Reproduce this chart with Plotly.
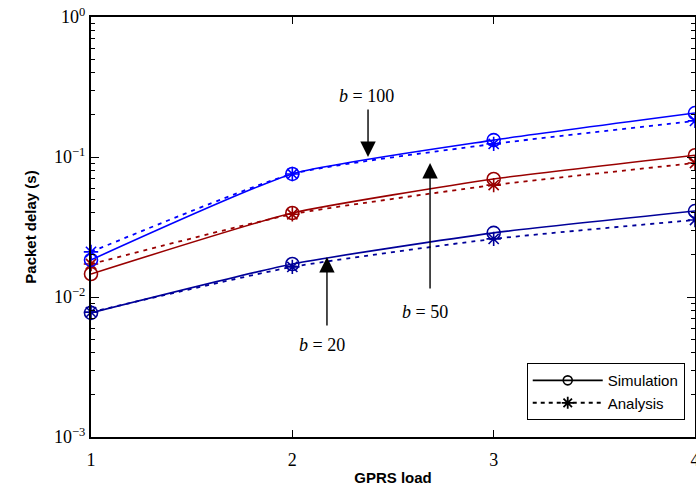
import numpy as np
import plotly.graph_objects as go

loads = [1, 2, 3, 4]
sim_b100 = [0.0184, 0.0757, 0.132, 0.206]
ana_b100 = [0.0210, 0.0757, 0.124, 0.181]
sim_b50 = [0.0146, 0.0398, 0.0697, 0.103]
ana_b50 = [0.0172, 0.0390, 0.0630, 0.0906]
sim_b20 = [0.0077, 0.0172, 0.0287, 0.0411]
ana_b20 = [0.0078, 0.0164, 0.0260, 0.0355]

blue = "#0000FF"
dred = "#990000"
navy = "#000099"

fig = go.Figure()

def add(x, y, color, sim):
    if sim:
        fig.add_trace(go.Scatter(x=x, y=y, mode="lines+markers", showlegend=False, cliponaxis=False,
                                 line=dict(color=color, width=1.6, shape="spline", smoothing=0.5),
                                 marker=dict(symbol="circle-open", size=13, color=color, line=dict(width=1.6))))
    else:
        fig.add_trace(go.Scatter(x=x, y=y, mode="lines+markers", showlegend=False, cliponaxis=False,
                                 line=dict(color=color, width=1.8, dash="4px,5px", shape="spline", smoothing=0.5),
                                 marker=dict(symbol="asterisk-open", size=12, color=color, line=dict(width=1.6, color=color))))

add(loads, ana_b20, navy, False)
add(loads, sim_b20, navy, True)
add(loads, ana_b50, dred, False)
add(loads, sim_b50, dred, True)
add(loads, ana_b100, blue, False)
add(loads, sim_b100, blue, True)

# legend entries
fig.add_trace(go.Scatter(x=[None], y=[None], mode="lines+markers", name="Simulation",
                         line=dict(color="black", width=1.6),
                         marker=dict(symbol="circle-open", size=9, color="black", line=dict(width=1.6))))
fig.add_trace(go.Scatter(x=[None], y=[None], mode="lines+markers", name="Analysis",
                         line=dict(color="black", width=2, dash="4px,4px"),
                         marker=dict(symbol="asterisk-open", size=10, color="black", line=dict(width=1.8, color="black"))))

major = [1e-3, 1e-2, 1e-1, 1]
major_text = ["10<sup>\u22123</sup>", "10<sup>\u22122</sup>", "10<sup>\u22121</sup>", "10<sup>0</sup>"]
minor_vals = [m * d for d in [1e-3, 1e-2, 1e-1] for m in range(2, 10)]

serif = "Liberation Serif"
sans = "Liberation Sans"

fig.update_layout(
    width=696, height=488,
    margin=dict(l=91, r=1, t=17, b=51, autoexpand=False),
    plot_bgcolor="white", paper_bgcolor="white",
    xaxis=dict(range=[1, 4], tickvals=loads, ticktext=[str(v) for v in loads],
               ticks="inside", ticklen=7, tickwidth=1, tickcolor="black",
               showline=True, linecolor="black", linewidth=2, mirror="ticks",
               showgrid=False, zeroline=False, automargin=False, ticklabelstandoff=5,
               ticklabeloverflow="allow",
               tickfont=dict(family=serif, size=18, color="black"),
               title=dict(text="<b>GPRS load</b>", font=dict(family=sans, size=15, color="black"), standoff=4)),
    yaxis=dict(type="log", range=[-3, 0], tickvals=major, ticktext=major_text,
               ticks="inside", ticklen=8, tickwidth=1, tickcolor="black",
               showline=True, linecolor="black", linewidth=2, mirror="ticks",
               showgrid=False, zeroline=False, automargin=False,
               ticklabeloverflow="allow",
               minor=dict(tickvals=minor_vals, ticks="inside", ticklen=4, tickcolor="black", showgrid=False),
               tickfont=dict(family=serif, size=18, color="black"),
               title=dict(text="<b>Packet delay (s)</b>", font=dict(family=sans, size=15, color="black"), standoff=14)),
    legend=dict(x=0.983, y=0.176, xanchor="right", yanchor="top",
                bgcolor="white", bordercolor="black", borderwidth=1,
                font=dict(family=sans, size=15, color="black"), itemwidth=70,
                tracegroupgap=0),
)

lg = np.log10
arrows = [
    (2.376, 0.1, 0.224),
    (2.684, 0.0906, 0.0112),
    (2.172, 0.0193, 0.0061),
]
for x, ytip, ytail in arrows:
    fig.add_annotation(x=x, y=lg(ytip), ax=x, ay=lg(ytail), xref="x", yref="y", axref="x", ayref="y",
                       showarrow=True, arrowhead=2, arrowsize=2.2, arrowwidth=1.4, arrowcolor="black", text="")

labels = [
    ("<i>b</i> = 100", 2.366, 0.273),
    ("<i>b</i> = 50", 2.659, 0.00781),
    ("<i>b</i> = 20", 2.148, 0.00454),
]
for t, x, y in labels:
    fig.add_annotation(x=x, y=lg(y), xref="x", yref="y", text=t, showarrow=False,
                       font=dict(family=serif, size=18, color="black"))

fig.write_html("out.html", config={"displayModeBar": False},
               post_script="document.body.style.margin='0px';document.body.style.overflow='hidden';")
